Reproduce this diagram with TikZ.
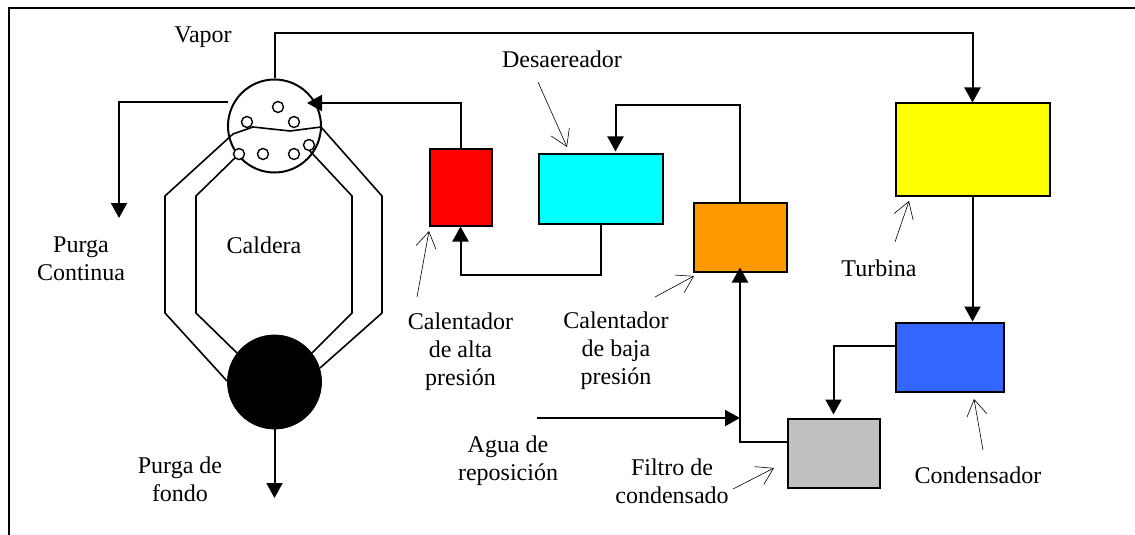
\documentclass[tikz,border=0pt]{standalone}
\usepackage{fontspec}
\setmainfont{Liberation Serif}
\usetikzlibrary{arrows.meta}

\definecolor{rojoCal}{RGB}{255,0,0}
\definecolor{cianDesa}{RGB}{0,255,255}
\definecolor{naranjaCal}{RGB}{255,153,0}
\definecolor{amarilloTurb}{RGB}{255,255,0}
\definecolor{azulCond}{RGB}{51,102,255}
\definecolor{grisFiltro}{RGB}{192,192,192}

\tikzset{
  caja/.style={draw,line width=1pt,inner sep=0pt},
  etiqueta/.style={anchor=base,align=center,inner sep=0pt,font=\fontsize{12}{14}\selectfont},
  burbuja/.style={draw,circle,line width=0.7pt,fill=white,inner sep=0pt,minimum size=5.5pt},
  tubo/.style={line width=0.8pt,line join=miter},
  flujo/.style={line width=1pt,-{Triangle[length=7.5pt,width=8pt]}},
  nota/.style={line width=0.3pt,-{Straight Barb[length=8pt,width=10pt]}}
}

\begin{document}
\begin{tikzpicture}[x=0.5pt,y=-0.5pt]

    \useasboundingbox (0,0) rectangle (1135,535);
    \coordinate (esqAbajo) at (9,535);
    \coordinate (esqDer) at (1135,8.5);
    \draw[line width=1pt] (esqAbajo) |- (esqDer);
          % Only the top and left sides of the frame are drawn

    % Equipment boxes
    \node[caja,fill=rojoCal,minimum width=31pt,minimum height=38pt] (calAlta) at (460.5,187.5) {};
    \node[caja,fill=cianDesa,minimum width=62pt,minimum height=34.5pt] (desa) at (600.5,189) {};
    \node[caja,fill=naranjaCal,minimum width=46.5pt,minimum height=34.5pt] (calBaja) at (740,237) {};
    \node[caja,fill=amarilloTurb,minimum width=77pt,minimum height=46pt] (turbina) at (972.5,149.5) {};
    \node[caja,fill=azulCond,minimum width=54pt,minimum height=34.5pt] (cond) at (949.5,357) {};
    \node[caja,fill=grisFiltro,minimum width=46pt,minimum height=34.5pt] (filtro) at (833.5,453) {};

    % Boiler: drum, mud drum and the two pairs of tubes
    \node[draw,circle,line width=1pt,inner sep=0pt,minimum size=46.5pt] (domo) at (274.5,126) {};
    \node[draw,circle,fill,inner sep=0pt,minimum size=47pt] (lodos) at (274.5,382) {};

    \draw[tubo] (321,127) -- (290,131) -- (253,127) -- (233,134) -- (165,196) -- (165,313) -- (227,381);
    \draw[tubo] (321,127) -- (382,196) -- (382,313) -- (320,368);
    \draw[tubo] (239,154) -- (196,196) -- (196,313) -- (237,353);
    \draw[tubo] (309,150) -- (352,196) -- (352,313) -- (312,353);

    \foreach \i/\x/\y in {1/278/107,2/247/122,3/294/122,4/239/154,5/263/154,6/294/154,7/309/145}{%
      \node[burbuja] (b\i) at (\x,\y) {};
    }

    % Free ends of the flow lines
    \coordinate (vaporCodo) at (274.5,33);
    \coordinate (domoEnt) at (307,103);
    \coordinate (purgaIni) at (228,102);
    \coordinate (purgaFin) at (119,218);
    \coordinate (aguaIni) at (537,418);
    \coordinate (fondoFin) at (274.5,498);

    \draw[flujo] (domo.north) -- (vaporCodo) -| (turbina.north);
    \draw[flujo] (calAlta.north) |- (domoEnt);
    \draw[flujo] (purgaIni) -| (purgaFin);
    \draw[flujo] (desa.south) -- ++(0,50) -| (calAlta.south);
    \draw[flujo] (calBaja.north) -- ++(0,-96) -| ([xshift=7.5pt,yshift=1pt]desa.north);
    \draw[flujo] (turbina.south) -- (turbina.south |- cond.north);
    \draw[flujo] ([yshift=5.5pt]cond.west) -| ([yshift=1.5pt]filtro.north);
    \draw[flujo] ([yshift=5.5pt]filtro.west) -| ([yshift=2.5pt]calBaja.south);
    \draw[flujo] (aguaIni) -- (aguaIni -| calBaja.south);
    \draw[flujo] (lodos.south) -- (fondoFin);

    % Labels, each placed by the baseline of its last line
    \node[etiqueta] (vapor) at (203,43) {Vapor};
    \node[etiqueta] (purgaC) at (81,280) {Purga\\Continua};
    \node[etiqueta] (caldera) at (264,253) {Caldera};
    \node[etiqueta] (purgaF) at (180,501) {Purga de\\fondo};
    \node[etiqueta] (txtAlta) at (460.5,385) {Calentador\\de alta\\presión};
    \node[etiqueta] (txtBaja) at (616,384) {Calentador\\de baja\\presión};
    \fill[white] (585,386) rectangle (655,397);
          % The last line of this label is cut just under its baseline
    \node[etiqueta] (txtAgua) at (508,480) {Agua de\\reposición};
    \node[etiqueta] (txtFiltro) at (672,503) {Filtro de\\condensado};
    \node[etiqueta] (txtDesa) at (562,68) {Desaereador};
    \node[etiqueta] (txtTurb) at (879,276) {Turbina};
    \node[etiqueta] (txtCond) at (978,483) {Condensador};

    % Thin pointers from the labels to the equipment
    \coordinate (n1a) at (538,82);   \coordinate (n1b) at (567,147);
    \coordinate (n2a) at (417,297);  \coordinate (n2b) at (429,231);
    \coordinate (n3a) at (655,297);  \coordinate (n3b) at (694,276);
    \coordinate (n4a) at (733,489);  \coordinate (n4b) at (774,468);
    \coordinate (n5a) at (895,242);  \coordinate (n5b) at (909,201);
    \coordinate (n6a) at (983,450);  \coordinate (n6b) at (974,399);
    \foreach \n in {1,...,6}{%
      \draw[nota] (n\n a) -- (n\n b);
    }

\end{tikzpicture}
\end{document}
